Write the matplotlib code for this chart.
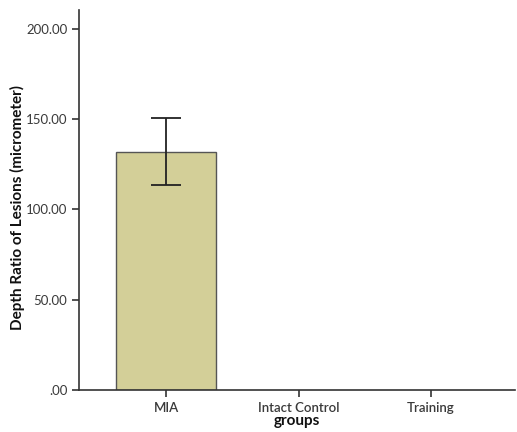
import matplotlib
matplotlib.use("Agg")
import matplotlib.pyplot as plt
from matplotlib.ticker import FuncFormatter

# Data
groups = ["MIA", "Intact Control", "Training"]
means = [132.0, 0.0, 0.0]
err_low = [18.5, 0.0, 0.0]
err_high = [18.7, 0.0, 0.0]

plt.rcParams["font.family"] = ["Lato", "DejaVu Sans"]

fig = plt.figure(figsize=(5.17, 4.32), dpi=100)
ax = fig.add_axes([0.153, 0.097, 0.843, 0.88])

x = range(len(groups))
ax.bar(x[:1], means[:1], width=0.75, color="#d3cf98", edgecolor="#555555", linewidth=1.0)
ax.errorbar(x[:1], means[:1], yerr=[err_low[:1], err_high[:1]], fmt="none",
            ecolor="#222222", elinewidth=1.3, capsize=11, capthick=1.3)

ax.set_xlim(-0.657, 2.634)
ax.set_ylim(0, 210.5)
ax.set_yticks([0, 50, 100, 150, 200])
ax.yaxis.set_major_formatter(FuncFormatter(lambda v, p: ".00" if v == 0 else f"{v:.2f}"))
ax.set_xticks(list(x))
ax.set_xticklabels(groups, fontweight="semibold")

for s in ["top", "right"]:
    ax.spines[s].set_visible(False)
for s in ["left", "bottom"]:
    ax.spines[s].set_color("#333333")
    ax.spines[s].set_linewidth(1.2)

ax.tick_params(axis="both", length=5, width=1.2, color="#333333", labelsize=9.5,
               labelcolor="#3a3a3a")
ax.set_xlabel("groups", fontsize=11, fontweight="bold", labelpad=0, color="#111111")
ax.set_ylabel("Depth Ratio of Lesions (micrometer)", fontsize=11, fontweight="bold",
              color="#111111", labelpad=5)
ax.yaxis.set_label_coords(-0.125, 0.48)

fig.savefig("out.png", dpi=100)
